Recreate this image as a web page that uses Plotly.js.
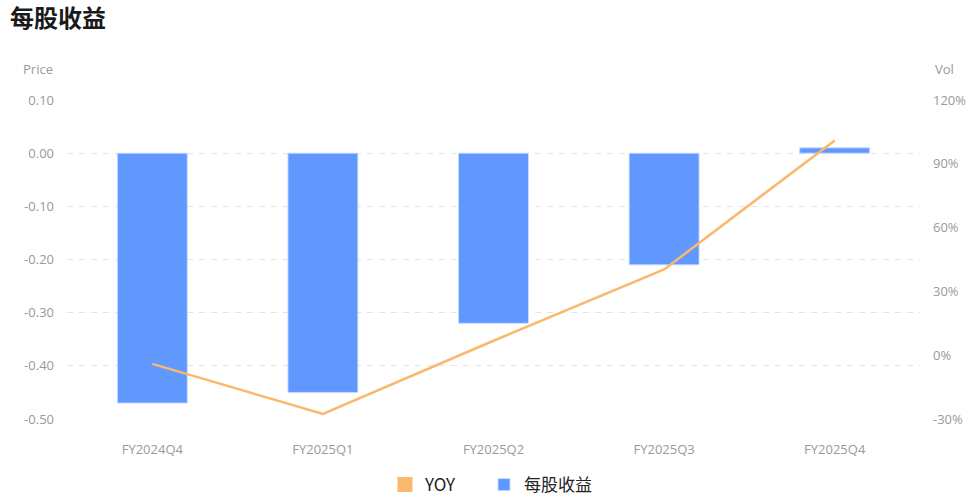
<!DOCTYPE html>
<html>
<head>
<meta charset="utf-8">
<script src="https://cdn.plot.ly/plotly-3.0.1.min.js"></script>
<style>
  html, body { margin: 0; padding: 0; background: #fff; }
  #chart { width: 970px; height: 497px; }
</style>
</head>
<body>
<div id="chart"></div>
<script>
const quarters = ["FY2024Q4", "FY2025Q1", "FY2025Q2", "FY2025Q3", "FY2025Q4"]
const epsValues = [-0.47, -0.45, -0.32, -0.21, 0.01]
const yoyValues = [-4.1, -27.6, 6.8, 40.3, 101]
const priceTicks = [0.1, 0, -0.1, -0.2, -0.3, -0.4, -0.5]
const volTicks = [120, 90, 60, 30, 0, -30]

const blue = "#6098ff"
const orange = "#f9b86c"
const tickFont = { family: "Open Sans, Noto Sans, sans-serif", size: 13, color: "#9a9a9a" }
const legendFont = { family: "Noto Sans CJK SC, sans-serif", size: 17, color: "#222" }

const data = [
    {
        type: "bar",
        name: "每股收益",
        x: quarters,
        y: epsValues,
        width: 0.41,
        marker: { color: blue, line: { color: "rgba(200,220,255,0.9)", width: 1 } },
        legend: "legend2",
        hoverinfo: "x+y"
    },
    {
        type: "scatter",
        mode: "lines",
        name: "YOY",
        x: quarters,
        y: yoyValues,
        yaxis: "y2",
        line: { color: orange, width: 2.5 },
        showlegend: false
    },
    {
        // legend entry only, so YOY shows a square like the reference
        type: "scatter",
        mode: "markers",
        name: "YOY",
        x: [quarters[0]],
        y: [null],
        yaxis: "y2",
        marker: { color: orange, symbol: "square", size: 15 },
        legend: "legend"
    }
]

const layout = {
    width: 970,
    height: 497,
    margin: { l: 67, r: 50, t: 100, b: 78, pad: 0, autoexpand: false },
    paper_bgcolor: "#ffffff",
    plot_bgcolor: "#ffffff",
    font: { family: "Noto Sans CJK SC, sans-serif" },
    title: {
        text: "每股收益",
        font: { family: "Noto Sans CJK SC", size: 24, color: "#1a1a1a", weight: "bold" },
        xref: "container", yref: "container",
        x: 10 / 970, xanchor: "left",
        y: 1 - 19 / 497, yanchor: "middle"
    },
    xaxis: {
        type: "category",
        showgrid: false,
        zeroline: false,
        showline: false,
        ticks: "",
        tickfont: tickFont,
        ticklabelstandoff: 21
    },
    yaxis: {
        range: [-0.5, 0.1],
        tickvals: priceTicks,
        ticktext: priceTicks.map(v => v.toFixed(2)),
        tickfont: tickFont,
        showgrid: true,
        gridcolor: "#e3e3ea",
        griddash: "6px,6px",
        gridwidth: 1,
        zeroline: false,
        showline: false,
        ticks: "",
        ticklabelstandoff: 12
    },
    yaxis2: {
        overlaying: "y",
        side: "right",
        range: [-30, 120],
        tickvals: volTicks,
        ticktext: volTicks.map(v => v + "%"),
        tickfont: tickFont,
        showgrid: false,
        zeroline: false,
        showline: false,
        ticks: "",
        ticklabelstandoff: 12
    },
    legend: {
        orientation: "h",
        x: (385 - 67) / 853, xanchor: "left",
        y: -66 / 319, yanchor: "middle",
        font: legendFont,
        itemwidth: 30
    },
    legend2: {
        orientation: "h",
        x: (484 - 67) / 853, xanchor: "left",
        y: -66 / 319, yanchor: "middle",
        font: legendFont,
        itemwidth: 30
    },
    annotations: [
        {
            text: "Price", xref: "paper", yref: "paper",
            x: -29 / 853, y: 1 + 31 / 319,
            xanchor: "center", yanchor: "middle", showarrow: false,
            font: tickFont
        },
        {
            text: "Vol", xref: "paper", yref: "paper",
            x: 1 + 24 / 853, y: 1 + 31 / 319,
            xanchor: "center", yanchor: "middle", showarrow: false,
            font: tickFont
        }
    ],
    showlegend: true,
    bargap: 0.59
}

const config = { responsive: false, displayModeBar: false, staticPlot: true }

Plotly.newPlot("chart", data, layout, config)
</script>
</body>
</html>
